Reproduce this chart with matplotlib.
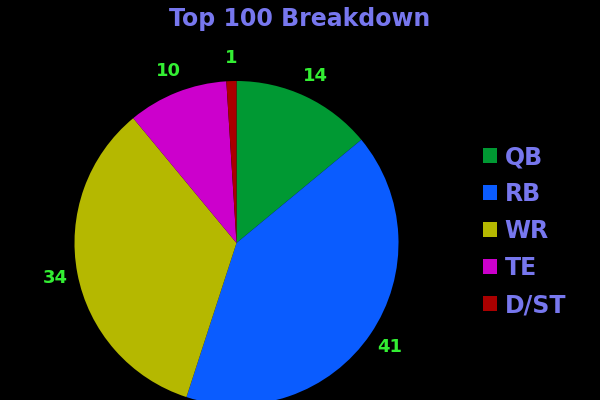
import matplotlib
matplotlib.use("Agg")
import matplotlib.pyplot as plt

# data
positions = ["QB", "RB", "WR", "TE", "D/ST"]
counts = [14, 41, 34, 10, 1]
colors = ["#009933", "#0a5cff", "#b5b800", "#cc00cc", "#aa0000"]

title_color = "#7777ee"
label_color = "#33ee33"

fig = plt.figure(figsize=(6, 4), dpi=100, facecolor="black")

# pie centred at about (236, 243) px, radius about 162 px
cx, cy, r = 236.5, 400 - 243, 162
ax = fig.add_axes([(cx - r) / 600, (cy - r) / 400, 2 * r / 600, 2 * r / 400])
ax.set_facecolor("black")

wedges, texts = ax.pie(counts, colors=colors, labels=[str(c) for c in counts],
                       startangle=90, counterclock=False, labeldistance=1.14,
                       textprops=dict(color=label_color, fontsize=13, fontweight="bold"))
for t in texts:
    t.set_horizontalalignment("center")
    t.set_verticalalignment("center")
for w in wedges:
    w.set_clip_on(False)
ax.set_xlim(-1, 1)
ax.set_ylim(-1, 1)
ax.axis("off")

fig.text(0.5, 0.952, "Top 100 Breakdown", color=title_color, fontsize=17,
         fontweight="bold", ha="center", va="center")

leg = fig.legend(wedges, positions, loc="upper left", bbox_to_anchor=(0.77, 0.69),
                 frameon=False, labelcolor=title_color,
                 handlelength=0.6, handleheight=0.6, handletextpad=0.3,
                 labelspacing=0.55, prop=dict(weight="bold", size=17))

fig.savefig("out.png", facecolor="black")
